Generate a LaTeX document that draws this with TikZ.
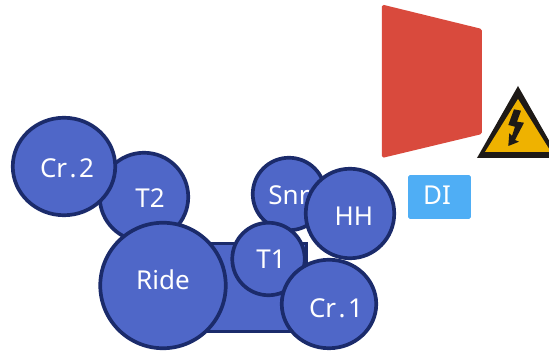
\documentclass[tikz,border=0pt]{standalone}
\usepackage{fontspec}
\setmainfont{Noto Sans}
\usetikzlibrary{shapes.geometric}
\definecolor{drumfill}{HTML}{4F67C8}
\definecolor{drumline}{HTML}{1B2B6B}
\definecolor{amproom}{HTML}{D94A3D}
\definecolor{diblue}{HTML}{4FAEF5}
\definecolor{signyellow}{HTML}{EFB200}
\definecolor{signblack}{HTML}{1E1A17}
\tikzset{
    drum/.style 2 args={ellipse,draw=drumline,fill=drumfill,line width=2.1pt,inner sep=0pt,
        minimum width={#1*0.02cm},minimum height={#2*0.02cm}},
    drumlabel/.style={text=white,inner sep=0pt,font=\fontsize{14.8}{16}\selectfont}
}
\begin{document}
\begin{tikzpicture}[x=0.02cm,y=-0.02cm]
        \useasboundingbox (0,0) rectangle (549,351);
        % amp and warning sign
        \fill[amproom,rounded corners=1pt] (382,4.5) -- (482,29) -- (482,134) -- (382,158) -- cycle;
        \begin{scope}
            \clip (0,0) rectangle (549,351);
            \fill[signblack] (518,86) -- (559,158) -- (477,158) -- cycle;
            \fill[signyellow] (518,99) -- (551,152) -- (485,152) -- cycle;
            \fill[signblack] (514,109.3) -- (521,110.7) -- (517,121.7) -- (524,122.7) -- (515,140)
                -- (519,141.7) -- (508.3,146) -- (509.3,133.3) -- (512,136) -- (515,126.7) -- (508.3,125) -- cycle;
        \end{scope}
        \node[fill=diblue,rounded corners=1pt,inner sep=0pt,minimum width=1.26cm,minimum height=0.88cm] (di) at (439.5,197) {};
        \node[drumlabel] (ditext) at (437,195) {DI};
        % drum kit
        \node[draw=drumline,fill=drumfill,line width=2.1pt,minimum width=2.14cm,minimum height=1.76cm] (kick) at (253,287.5) {};
        \node[drum={88.5}{88.5}] (t2) at (144,197) {};
        \node[drumlabel] (t2text) at (150,198) {T2};
        \node[drum={102.5}{97.5}] (cr2) at (64,166.5) {};
        \node[drumlabel] (cr2text) at (67,168) {Cr\kern1.4pt.\kern1.4pt2};
        \node[drum={125.5}{125.5}] (ride) at (163,285.5) {};
        \node[drumlabel] (ridetext) at (163,280) {Ride};
        \node[drum={72.5}{72.5}] (snr) at (289,194) {};
        \node[drumlabel] (snrtext) at (289,195) {Snr};
        \node[drum={88.5}{89.5}] (hh) at (350,213.5) {};
        \node[drumlabel] (hhtext) at (354,216) {HH};
        \node[drum={72.5}{72.5}] (t1) at (268.5,259) {};
        \node[drumlabel] (t1text) at (271,259) {T1};
        \node[drum={94.5}{88.5}] (cr1) at (329,304) {};
        \node[drumlabel] (cr1text) at (336,308) {Cr\kern1.4pt.\kern1.4pt1};
\end{tikzpicture}
\end{document}
